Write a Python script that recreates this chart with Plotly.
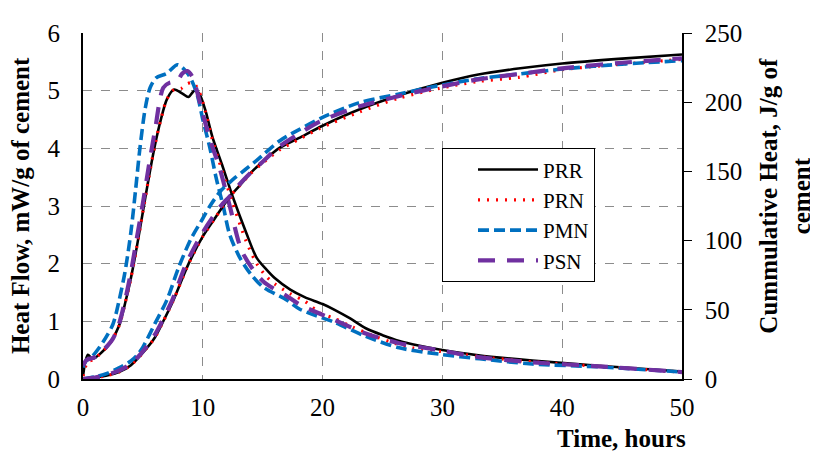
import plotly.graph_objects as go

# ---------------- data ----------------
series_names = ["PRR", "PRN", "PMN", "PSN"]

# Heat flow, mW/g of cement (left axis)
prr_t_flow = [0, 0.4, 0.8, 1.5, 2.25, 3.0, 3.5, 4.0, 4.5, 5.0, 5.5, 6.0, 6.5, 7.0, 7.6, 8.3, 8.8, 9.3, 9.7,
              10.2, 10.8, 11.6, 12.5, 13.6, 14.5, 15.3, 16.0, 17.3, 18.5, 20.0, 21.0, 22.3, 23.6, 25.0, 26.4,
              28.0, 29.75, 33.0, 37.5, 43.0, 50.0]
prr_flow = [0.05, 0.42, 0.35, 0.45, 0.62, 0.92, 1.3, 1.75, 2.3, 2.9, 3.5, 4.05, 4.5, 4.85, 5.02, 4.95, 4.89, 5.0, 4.95,
            4.67, 4.2, 3.72, 3.16, 2.55, 2.1, 1.9, 1.75, 1.55, 1.42, 1.3, 1.2, 1.05, 0.88, 0.76, 0.66,
            0.58, 0.51, 0.41, 0.32, 0.23, 0.13]

prn_t_flow = [0, 0.4, 0.8, 1.5, 2.25, 3.0, 3.5, 4.0, 4.5, 5.0, 5.5, 6.0, 6.5, 7.0, 7.6, 8.2, 8.7, 9.2, 9.7,
              10.2, 10.8, 11.6, 12.5, 13.6, 14.5, 15.3, 16.0, 17.3, 18.5, 19.75, 21.0, 22.5, 24.5, 26.0, 27.5,
              29.75, 33.0, 37.5, 43.0, 50.0]
prn_flow = [0.05, 0.3, 0.33, 0.45, 0.62, 0.92, 1.3, 1.75, 2.3, 2.9, 3.5, 4.05, 4.5, 4.85, 5.02, 5.04, 5.12, 5.14, 4.98,
            4.65, 4.15, 3.62, 3.05, 2.4, 2.0, 1.78, 1.65, 1.48, 1.35, 1.15, 1.05, 0.9, 0.73, 0.62, 0.54,
            0.48, 0.39, 0.3, 0.22, 0.12]

pmn_t_flow = [0, 0.2, 0.8, 1.7, 2.5, 3.0, 3.5, 4.0, 4.4, 4.75, 5.2, 5.6, 6.1, 7.0, 7.9, 8.8, 9.5, 10.0, 10.6, 11.1,
              11.7, 12.25, 13.1, 14.0, 15.0, 17.0, 18.1, 20.9, 23.6, 26.4, 29.75, 33.1, 37.5, 43.1, 50.0]
pmn_flow = [0.2, 0.3, 0.4, 0.65, 0.95, 1.35, 1.85, 2.55, 3.3, 4.0, 4.7, 5.05, 5.22, 5.3, 5.45, 5.28, 4.95, 4.5, 4.0, 3.5,
            3.0, 2.5, 2.1, 1.82, 1.6, 1.37, 1.21, 0.99, 0.74, 0.54, 0.43, 0.35, 0.26, 0.21, 0.12]

psn_t_flow = [0, 0.3, 1.0, 1.7, 2.5, 3.0, 3.5, 4.0, 4.5, 5.0, 5.5, 6.0, 6.7, 7.25, 7.8, 8.3, 8.7, 9.1, 9.5,
              10.0, 10.6, 11.4, 12.25, 13.3, 15.0, 17.0, 18.1, 20.8, 23.6, 26.4, 29.75, 33.0, 37.5, 43.0, 50.0]
psn_flow = [0.23, 0.33, 0.38, 0.5, 0.7, 0.95, 1.35, 1.85, 2.45, 3.05, 3.7, 4.3, 5.05, 5.14, 5.15, 5.3, 5.34, 5.25, 5.0,
            4.6, 4.15, 3.66, 3.0, 2.2, 1.7, 1.44, 1.29, 1.04, 0.79, 0.62, 0.5, 0.38, 0.29, 0.22, 0.12]

# Cumulative heat, J/g of cement (right axis)
prr_t_cum = [0, 1, 2, 3, 4, 5, 6, 6.7, 7.5, 8.8, 10, 11, 11.7, 12.25, 13, 14, 15, 16.4, 18, 20, 23, 26.4,
             30, 33, 36.5, 40, 45, 50]
prr_cum = [0, 1, 2.5, 5, 10, 19, 30, 41.7, 56, 83, 103, 116, 125, 131.8, 139, 149, 157, 167, 174, 183, 194.5, 205,
           214, 220, 224.5, 228, 231.5, 234.5]

prn_t_cum = [0, 1, 2, 3, 4, 5, 6, 6.7, 7.5, 8.8, 10, 11, 11.7, 12.25, 13, 14, 15, 16.4, 18, 19.75, 23.1, 26.4,
             29.75, 33, 36.4, 40, 45, 50]
prn_cum = [0, 1, 2.5, 5, 10, 19, 30, 41.7, 56, 83, 103, 116, 125, 131.8, 139, 148.5, 156, 165.5, 173, 181, 193, 203,
           210, 215, 218, 223.5, 227.5, 231]

pmn_t_cum = [0, 1, 2, 3, 4, 4.5, 5, 6, 7, 8, 9, 10, 10.6, 11.5, 12.5, 13.5, 14.5, 16.4, 18, 20, 23, 26.4,
             30, 33, 36.5, 40, 45, 50]
pmn_cum = [0, 1.5, 4, 8, 13, 17, 23, 40, 57, 81, 101, 116, 125, 136, 144, 151, 158, 172, 180, 189, 199.5, 206,
           212.5, 217, 220.5, 224, 227.5, 230]

psn_t_cum = [0, 1, 2, 3, 4, 5, 6, 6.6, 7.5, 8.6, 10, 11.5, 12.25, 13, 14, 15, 16.4, 18, 19.75, 23.1, 26.4,
             29.75, 33, 36.5, 40, 45, 50]
psn_cum = [0, 1, 3, 6, 11, 20, 32, 41.7, 58, 83, 106, 125, 132, 140, 149, 157, 168, 177, 186, 197, 204.5,
           211, 216.5, 220.5, 224.5, 228.5, 231.7]

x_ticks = [0, 10, 20, 30, 40, 50]
y_ticks = [0, 1, 2, 3, 4, 5, 6]
y2_ticks = [0, 50, 100, 150, 200, 250]

# ---------------- styling ----------------
styles = {
    "PRR": dict(color="#000000", width=2.6, dash="solid"),
    "PRN": dict(color="#FF0000", width=3.2, dash="2px,7px"),
    "PMN": dict(color="#0070C0", width=3.6, dash="11px,5px"),
    "PSN": dict(color="#7030A0", width=4.2, dash="17px,12px"),
}
flows = {"PRR": (prr_t_flow, prr_flow), "PRN": (prn_t_flow, prn_flow),
         "PMN": (pmn_t_flow, pmn_flow), "PSN": (psn_t_flow, psn_flow)}
cums = {"PRR": (prr_t_cum, prr_cum), "PRN": (prn_t_cum, prn_cum),
        "PMN": (pmn_t_cum, pmn_cum), "PSN": (psn_t_cum, psn_cum)}

FONT = "Liberation Serif, Times New Roman, serif"
tickfont = dict(family=FONT, size=25, color="black")

fig = go.Figure()
for name in series_names:
    st = styles[name]
    line = dict(color=st["color"], width=st["width"], dash=st["dash"], shape="spline", smoothing=0.8)
    tf, vf = flows[name]
    tc, vc = cums[name]
    fig.add_trace(go.Scatter(x=tf, y=vf, mode="lines", name=name,
                             line=line, yaxis="y", showlegend=True))
    fig.add_trace(go.Scatter(x=tc, y=vc, mode="lines", name=name,
                             line=line, yaxis="y2", showlegend=False))

grid = dict(showgrid=True, gridcolor="#8c8c8c", gridwidth=1.3, griddash="dash")

# page body has an 8px margin, so the figure is drawn 8px smaller and offset
fig.update_layout(
    width=810, height=449,
    margin=dict(l=75, r=136, t=12, b=78),
    paper_bgcolor="white", plot_bgcolor="white",
    font=dict(family=FONT, size=16, color="black"),
    showlegend=True,
    legend=dict(x=0.599, y=0.667, xanchor="left", yanchor="top",
                bgcolor="white", bordercolor="black", borderwidth=1.2,
                font=dict(family=FONT, size=21, color="black"),
                itemwidth=60, indentation=30, tracegroupgap=0,
                entrywidth=180, entrywidthmode="pixels"),
    xaxis=dict(range=[0, 50], tickvals=x_ticks, showline=True, linecolor="black", linewidth=2,
               ticks="", ticklabelstandoff=5, zeroline=False, ticklabeloverflow="allow",
               tickfont=tickfont, **grid),
    yaxis=dict(range=[0, 6], tickvals=y_ticks, showline=True, linecolor="black", linewidth=2,
               ticks="", ticklabelstandoff=16, zeroline=False, ticklabeloverflow="allow",
               tickfont=tickfont, **grid),
    yaxis2=dict(range=[0, 250], tickvals=y2_ticks, overlaying="y", side="right", showline=True,
                linecolor="black", linewidth=1.5, ticks="outside", ticklen=8, tickcolor="black",
                ticklabelstandoff=8, showgrid=False, zeroline=False, ticklabeloverflow="allow",
                tickfont=tickfont),
    annotations=[
        dict(text="<b>Heat Flow, mW/g of cement</b>", xref="paper", yref="paper",
             x=-0.105, y=0.5, xanchor="center", yanchor="middle", textangle=-90, showarrow=False,
             font=dict(family=FONT, size=25, color="black")),
        dict(text="<b>Cummulative Heat, J/g of<br>cement</b>", xref="paper", yref="paper",
             x=1.172, y=0.53, xanchor="center", yanchor="middle", textangle=-90, showarrow=False,
             font=dict(family=FONT, size=25, color="black")),
        dict(text="<b>Time, hours</b>", xref="paper", yref="paper",
             x=1.01, y=-0.173, xanchor="right", yanchor="middle", showarrow=False,
             font=dict(family=FONT, size=25, color="black")),
    ],
)

fig.write_html("out.html")
